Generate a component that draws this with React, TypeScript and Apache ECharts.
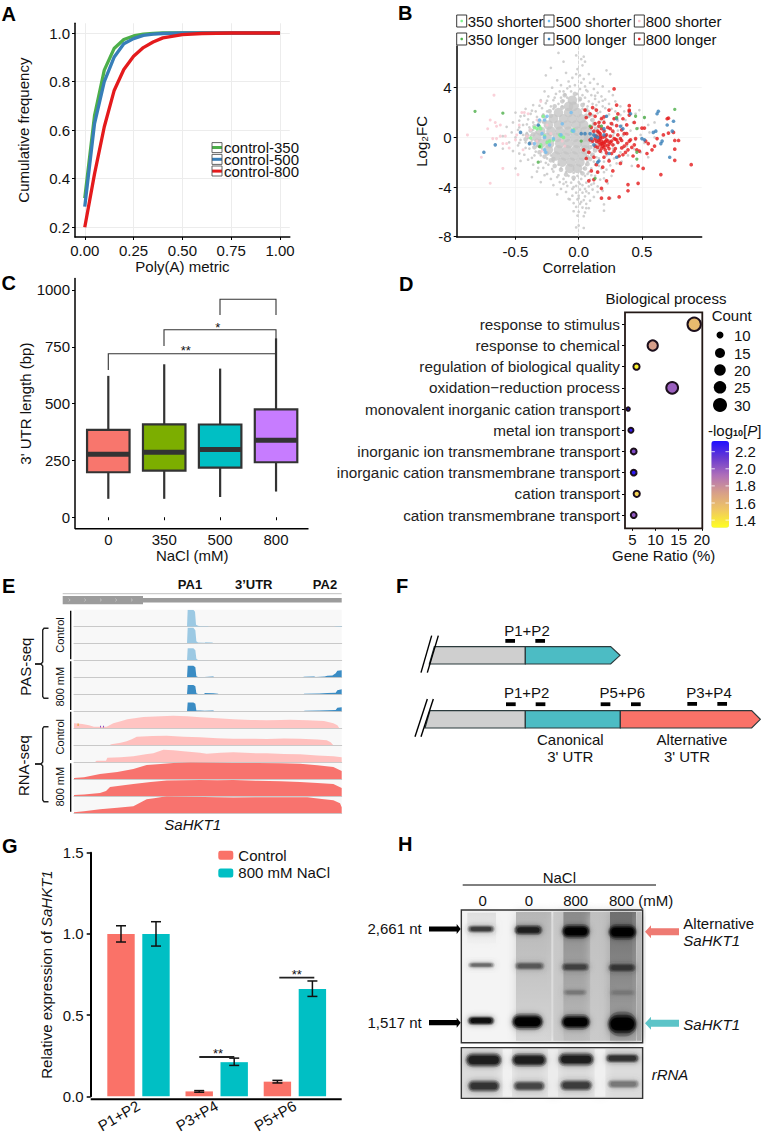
import React, { useEffect, useRef } from "react";
import * as echarts from "echarts";

const FONT = '"Liberation Sans", Arial, sans-serif';
const INK = "#111111";

/* ---------- Panel A ---------- */
const polyAX = [0, 0.05, 0.1, 0.15, 0.2, 0.25, 0.3, 0.35, 0.4, 0.5, 0.6, 0.75, 1];
const control350 = [0.32, 0.66, 0.847, 0.936, 0.973, 0.988, 0.995, 0.998, 1, 1, 1, 1, 1];
const control500 = [0.285, 0.627, 0.8, 0.9, 0.956, 0.977, 0.99, 0.995, 0.998, 1, 1, 1, 1];
const control800 = [0.2, 0.42, 0.614, 0.762, 0.85, 0.904, 0.94, 0.963, 0.98, 0.993, 0.998, 1, 1];

/* ---------- Panel B ---------- */
const greyCore = [
  [-0.05, 3], [-0.08, 2.5], [-0.04, 2.5], [-0.16, 2], [-0.08, 2], [-0.01, 2],
  [-0.2, 1.5], [-0.12, 1.5], [-0.05, 1.5], [0.02, 1.5],
  [-0.24, 1], [-0.16, 1], [-0.09, 1], [-0.02, 1], [0.04, 1],
  [-0.3, 0.5], [-0.22, 0.5], [-0.15, 0.5], [-0.08, 0.5], [-0.01, 0.5], [0.05, 0.5],
  [-0.33, 0], [-0.25, 0], [-0.17, 0], [-0.1, 0], [-0.03, 0], [0.04, 0], [0.08, 0],
  [-0.3, -0.5], [-0.23, -0.5], [-0.15, -0.5], [-0.08, -0.5], [-0.01, -0.5], [0.05, -0.5],
  [-0.24, -1], [-0.16, -1], [-0.09, -1], [-0.02, -1], [0.05, -1],
  [-0.18, -1.5], [-0.11, -1.5], [-0.04, -1.5], [0.03, -1.5],
  [-0.13, -2], [-0.06, -2], [0.01, -2], [-0.07, -2.5], [-0.01, -2.5],
];
const greyHalo = [
  [-0.11, 3.4], [-0.03, 3.5], [0.01, 3.1], [-0.13, 2.9], [0.03, 2.6], [-0.19, 2.5], [0.06, 2.2], [-0.23, 2.1], [0.09, 1.8], [-0.28, 1.7],
  [0.11, 1.4], [-0.31, 1.3], [0.12, 1.05], [-0.35, 0.9], [0.14, 0.7], [-0.38, 0.55], [0.15, 0.35], [-0.41, 0.2], [0.17, 0.05], [-0.42, -0.15],
  [0.15, -0.3], [-0.38, -0.45], [0.14, -0.7], [-0.35, -0.8], [0.13, -1.05], [-0.31, -1.2], [0.11, -1.4], [-0.27, -1.55], [0.09, -1.75], [-0.22, -1.85],
  [0.07, -2.15], [-0.19, -2.3], [0.05, -2.5], [-0.14, -2.6], [0.03, -2.9], [-0.1, -3], [-0.04, -3.25], [-0.36, 0.25], [-0.33, -0.25], [0.11, 0.3],
  [0.1, -0.35], [0.09, 0.75], [0.09, -0.8], [-0.27, 1.3], [-0.25, -1.3], [-0.22, 1.75], [-0.2, -1.75], [0.06, 1.75], [0.07, -1.6], [-0.13, 2.4],
];
const greyCloud = [
  [-0.16, 6.8], [-0.02, 6.6], [0.02, 6.3], [0.04, 6.5], [0.05, 6.1], [-0.12, 6.1], [-0.22, 5.6], [-0.01, 5.5],
  [0.03, 5.8], [0.08, 5.1], [-0.1, 5.2], [-0.02, 5.1], [0.01, 5], [0.22, 5.4], [0.25, 5.1], [-0.26, 5.0],
  [-0.05, 4.8], [0.04, 4.7], [-0.17, 4.6], [0.12, 4.7], [-0.08, 4.5], [0.02, 4.4], [0.09, 4.4], [0.15, 4.3],
  [-0.14, 4.2], [-0.03, 4.2], [0.05, 4.1], [0.19, 4.1], [-0.21, 4], [-0.09, 3.95], [0.01, 3.9], [0.12, 3.9],
  [0.24, 3.7], [-0.27, 3.7], [-0.15, 3.7], [-0.06, 3.7], [0.07, 3.7], [0.15, 3.6], [-0.18, 3.5], [-0.11, 3.45],
  [-0.01, 3.5], [0.03, 3.4], [0.1, 3.4], [0.18, 3.3], [0.27, 3.4], [-0.24, 3.3], [-0.14, 3.2], [-0.09, 3.2],
  [0.05, 3.2], [0.13, 3.1], [0.21, 3.05], [-0.3, 3], [-0.2, 3], [-0.12, 2.95], [0.01, 3], [0.08, 2.9],
  [0.16, 2.85], [0.29, 2.9], [-0.26, 2.75], [-0.16, 2.7], [-0.03, 2.75], [0.04, 2.7], [0.11, 2.7], [0.24, 2.7],
  [-0.36, 2.6], [-0.22, 2.5], [-0.13, 2.5], [0.07, 2.5], [0.19, 2.5], [0.33, 2.5], [-0.42, 2.3], [-0.29, 2.35],
  [-0.2, 2.3], [0.03, 2.3], [0.13, 2.3], [0.26, 2.3], [-0.5, 2], [-0.34, 2.1], [-0.25, 2.1], [0.08, 2.1],
  [0.17, 2.05], [0.36, 2.1], [0.48, 2.2], [-0.38, 1.9], [-0.28, 1.85], [0.11, 1.8], [0.24, 1.85], [0.33, 1.8],
  [0.45, 1.9], [-0.46, 1.7], [-0.33, 1.65], [-0.26, 1.6], [0.08, 1.65], [0.18, 1.6], [0.28, 1.55], [0.52, 1.6],
  [-0.4, 1.45], [-0.31, 1.4], [0.1, 1.4], [0.2, 1.35], [0.37, 1.4], [0.6, 1.2], [-0.52, 1.2], [-0.36, 1.2],
  [-0.28, 1.2], [0.12, 1.15], [0.25, 1.15], [0.43, 1.2], [-0.44, 1], [-0.32, 0.95], [0.09, 0.9], [0.18, 0.95],
  [0.34, 0.95], [0.55, 1], [-0.57, 0.85], [-0.39, 0.8], [-0.36, 0.6], [0.13, 0.75], [0.24, 0.7], [0.47, 0.75],
  [-0.48, 0.6], [-0.34, 0.4], [0.1, 0.55], [0.31, 0.55], [0.41, 0.55], [-0.53, 0.4], [-0.41, 0.35], [0.15, 0.4],
  [0.37, 0.35], [0.56, 0.4], [-0.44, 0.2], [-0.38, 0.15], [0.13, 0.2], [0.27, 0.15], [0.49, 0.2], [-0.6, 0.1],
  [-0.5, 0], [-0.4, -0.05], [0.16, 0], [0.33, -0.05], [0.6, 0], [-0.46, -0.2], [-0.37, -0.2], [0.12, -0.2],
  [0.24, -0.25], [0.45, -0.2], [-0.55, -0.4], [-0.42, -0.4], [-0.35, -0.5], [0.14, -0.45], [0.31, -0.45], [0.52, -0.45],
  [-0.48, -0.65], [-0.33, -0.7], [0.1, -0.7], [0.2, -0.7], [0.38, -0.7], [-0.6, -0.9], [-0.39, -0.9], [-0.29, -0.9],
  [0.12, -0.9], [0.27, -0.9], [0.44, -0.95], [-0.52, -1.1], [-0.34, -1.15], [-0.27, -1.2], [0.09, -1.2], [0.18, -1.2],
  [0.33, -1.2], [0.49, -1.2], [-0.43, -1.4], [-0.3, -1.45], [-0.22, -1.45], [0.1, -1.45], [0.22, -1.45], [0.39, -1.45],
  [-0.37, -1.65], [-0.25, -1.7], [0.08, -1.7], [0.16, -1.7], [0.28, -1.7], [0.55, -1.6], [-0.46, -1.9], [-0.3, -1.95],
  [-0.2, -1.95], [0.07, -1.95], [0.2, -1.95], [0.34, -1.95], [-0.36, -2.2], [-0.24, -2.2], [-0.16, -2.2], [0.06, -2.2],
  [0.13, -2.2], [0.25, -2.25], [0.42, -2.3], [-0.5, -2.5], [-0.28, -2.45], [-0.14, -2.5], [0.04, -2.5], [0.1, -2.5],
  [0.18, -2.5], [-0.33, -2.75], [-0.2, -2.75], [-0.1, -2.8], [-0.04, -2.85], [0.02, -2.8], [0.08, -2.8], [0.2, -2.8],
  [-0.27, -3.05], [-0.16, -3.05], [-0.08, -3.1], [-0.01, -3.1], [0.05, -3.1], [0.13, -3.1], [0.26, -3.1], [-0.37, -3.2],
  [-0.22, -3.35], [-0.12, -3.35], [-0.04, -3.4], [0.02, -3.35], [0.09, -3.4], [0.17, -3.4], [-0.3, -3.6], [-0.15, -3.6],
  [-0.06, -3.65], [0, -3.6], [0.06, -3.65], [0.12, -3.7], [0.23, -3.7], [-0.2, -3.85], [-0.09, -3.9], [-0.02, -3.9],
  [0.03, -3.85], [0.08, -3.95], [0.15, -3.95], [-0.14, -4.15], [-0.05, -4.15], [0.01, -4.2], [0.05, -4.15], [0.11, -4.2],
  [0.19, -4.3], [-0.1, -4.4], [-0.02, -4.45], [0.03, -4.45], [0.08, -4.5], [-0.17, -4.6], [-0.05, -4.7], [0, -4.7],
  [0.05, -4.75], [0.12, -4.8], [0.25, -4.9], [-0.07, -5], [-0.01, -5], [0.04, -5.05], [0.09, -5.1], [-0.04, -5.3],
  [0.01, -5.35], [0.06, -5.35], [0.2, -5.4], [-0.02, -5.6], [0.03, -5.65], [0.08, -5.7], [-0.04, -5.95], [0, -6],
  [0.05, -6.05], [0.2, -5.9], [-0.01, -6.3], [0.04, -6.35], [0, -7.1], [0.04, -7.3], [-0.02, -7.25],
  [-0.07, 4.1], [0.06, 3.8], [-0.12, 3.7], [0.13, 3.35], [-0.19, 3.2], [0.19, 2.95], [-0.25, 2.95], [0.14, 2.6], [0.21, 2.35], [-0.31, 2.55],
  [-0.37, 2.15], [0.29, 2.1], [0.15, 1.95], [-0.43, 1.75], [0.22, 1.7], [0.31, 1.35], [-0.47, 1.35], [0.17, 1.25], [0.27, 1], [-0.41, 1.05],
  [0.21, 0.55], [-0.47, 0.8], [0.28, 0.35], [0.35, 0.15], [-0.47, -0.45], [0.21, -0.05], [0.28, -0.6], [-0.42, -0.85], [0.35, -0.85], [0.16, -1],
  [-0.47, -1.3], [0.31, -1.6], [-0.35, -1.45], [0.14, -1.6], [-0.4, -1.8], [0.24, -1.75], [-0.26, -2.05], [0.12, -1.95], [0.3, -2.1], [-0.32, -2.45],
  [0.16, -2.3], [-0.21, -2.55], [0.22, -2.6], [-0.25, -2.95], [0.15, -2.75], [-0.17, -3.2], [0.1, -3.05], [-0.1, -3.6], [0.2, -3.3], [0.1, -3.8],
  [-0.04, -4], [0.06, -4.35], [-0.08, -4.95], [0.02, -5.2], [0.01, -3.75], [0.07, -2.95], [-0.12, -3.75], [0.15, -4.4], [0.0, -4.9], [0.06, -5.7],
];
const pink800Short = [
  [-0.88, 0.2], [-0.67, 3.4], [-0.77, -1.6], [-0.7, -3.7], [-0.6, -2.5], [-0.48, -3], [-0.72, 0.7], [-0.7, 1.4],
  [-0.66, 1.2], [-0.65, 0.9], [-0.62, 1], [-0.68, -0.1], [-0.65, -0.1], [-0.62, 0.1], [-0.58, 0.1], [-0.6, -0.5],
  [-0.57, -0.5], [-0.55, -0.85], [-0.5, -0.2], [-0.49, 0.2], [-0.45, 2], [-0.43, 2], [-0.47, 1], [-0.4, 1.9],
  [-0.38, 0.6], [-0.36, -0.5], [-0.33, -0.3], [-0.41, 0.1], [-0.44, -1], [-0.29, -1.1], [-0.22, 0.3], [-0.13, -0.3],
  [-0.11, -0.7], [-0.3, 2.9], [-0.25, 1], [-0.33, 1.4],
];
const green350Short = [
  [-0.35, 0.8], [-0.33, 0.7], [-0.31, 0.9], [-0.3, 0.7], [-0.28, 1.7], [-0.38, -0.05], [-0.3, -0.6], [-0.3, -0.75],
  [-0.27, 0.1], [-0.23, -0.3], [-0.25, -0.4], [-0.15, 0.2], [-0.14, 0.1], [-0.12, 0], [-0.05, 0.5], [-0.04, 0.6], [-0.2, -0.2],
];
const green350Long = [
  [-0.82, 2.1], [-0.6, 1.95], [0.76, 2.25], [0.52, 1.6], [0.45, 1.7], [0.46, 0.7], [0.46, -1.2], [0.46, -1.75],
  [0.13, -3.3], [0.09, 0.9], [0.02, -0.3], [-0.32, -2], [-0.31, -0.75], [0.3, 1.6], [0.18, 0.9],
];
const blue500Short = [
  [-0.35, -0.5], [-0.29, 0.3], [-0.27, 0], [-0.27, -1], [-0.26, -1.2], [-0.23, -0.6], [-0.25, 1.7], [-0.27, 1.4],
  [-0.14, 0.2], [-0.13, 1.1], [-0.06, 2], [-0.05, 0.55], [-0.04, 0.5], [-0.31, 1.4], [-0.2, -0.1],
];
const blue500Long = [
  [-0.75, -1.2], [-0.66, -0.6], [-0.46, 0.4], [-0.39, -0.5], [-0.32, 1], [0.02, 0.3], [0.05, 0.3], [0.09, 0.3],
  [0.12, 0.2], [0.15, 0], [0.1, -0.1], [0.13, 0.1], [0.2, 0.2], [0.22, 1.7], [0.3, 1.5], [0.33, 0.9], [0.35, 0.7],
  [0.41, 1.9], [0.5, -0.1], [0.52, -0.2], [0.59, 0.4], [0.61, 0.5], [0.63, 2.1], [0.62, 1.9], [0.65, -0.5], [0.66, -0.3],
  [0.7, 1], [0.75, 1.3], [0.74, 0.5], [0.72, -1.6], [0.24, -1.3], [0.3, -1.6], [0.16, -1.9], [0.15, -2], [0.12, -0.6], [0.2, 0.7],
];
const red800Long = [
  [0.89, -2.2], [0.79, -0.25], [0.76, -0.25], [0.76, -0.95], [0.76, -1.85], [0.75, 0.4], [0.71, 0.35], [0.71, 1.55],
  [0.7, 1.5], [0.65, -3], [0.67, 0.2], [0.62, -0.1], [0.6, -0.7], [0.58, -1], [0.55, -0.5], [0.54, -1.3], [0.52, 0.75],
  [0.5, 0.75], [0.53, -0.3], [0.51, -2.5], [0.47, -3.7], [0.47, -2.3], [0.46, -1], [0.45, -0.1], [0.44, -0.6],
  [0.43, -1.5], [0.42, -0.8], [0.4, 2.55], [0.4, 2.2], [0.4, 2.1], [0.41, -0.2], [0.4, 1.8], [0.4, -0.3], [0.39, -3.8],
  [0.39, -4.3], [0.39, -1], [0.38, 1], [0.38, 0.3], [0.37, -1.2], [0.36, -0.7], [0.35, 1.5], [0.35, -1.4], [0.34, 0.6],
  [0.33, -0.1], [0.32, -4.8], [0.32, -1.5], [0.31, 1.9], [0.31, 0.2], [0.3, -0.2], [0.3, 2.6], [0.28, 3.9], [0.28, -0.1],
  [0.28, 1.5], [0.27, 0.5], [0.27, -0.6], [0.27, -2.7], [0.26, 1.1], [0.26, -1.3], [0.25, 0.1], [0.25, -0.4], [0.24, 2.2],
  [0.24, -1.9], [0.23, 0.8], [0.23, -0.7], [0.22, 0.2], [0.22, -0.2], [0.22, -3.5], [0.21, -0.6], [0.21, -1], [0.2, 1.2],
  [0.2, 0.5], [0.2, -0.4], [0.2, -0.8], [0.2, -1.6], [0.19, 0], [0.19, -0.5], [0.19, -2.4], [0.18, 1.5], [0.18, 0.7],
  [0.18, -0.3], [0.18, -0.9], [0.18, -4.1], [0.17, 0.3], [0.17, -0.1], [0.17, -0.6], [0.17, -1.1], [0.16, 1.2], [0.16, 0.9],
  [0.16, -0.2], [0.16, -0.4], [0.15, 0.5], [0.15, -0.8], [0.15, -2.8], [0.14, 2.2], [0.14, 0.1], [0.14, -0.3], [0.14, -2.2],
  [0.13, 1.7], [0.13, 1.1], [0.13, -0.1], [0.13, -0.7], [0.12, 0.5], [0.12, -1.6], [0.12, -3.4], [0.11, 2.4], [0.11, -0.3],
  [0.1, 0.8], [0.1, -2.7], [0.09, 1.9], [0.09, -0.2], [0.08, -1.2], [0.08, -3.5], [0.06, 1.6], [0.06, -1.7], [0.05, 2.2],
  [0.04, -1], [0.29, -0.9], [0.33, -2.1], [0.36, 0.3], [0.24, -4.9], [0.18, -4.9], [0.44, 1.2], [0.48, -1.1],
  [0.26, -0.3], [0.24, -0.9], [0.23, -0.3], [0.21, -0.35], [0.21, 0.1], [0.19, -0.7], [0.18, -0.5], [0.17, 0.1], [0.24, -0.55], [0.29, -0.15],
  [0.31, -0.4], [0.34, -0.25], [0.25, 0.7], [0.3, 0.95], [0.2, 1.65], [0.16, 0.4], [0.22, -1.25], [0.28, -1.1], [0.34, -0.85], [0.38, -0.5],
];

/* ---------- Panel C ---------- */
const naclLevels = ["0", "350", "500", "800"];
const utrMin = [81, 81, 89, 113];
const utrQ1 = [198, 205, 218, 242];
const utrMedian = [277, 286, 298, 339];
const utrQ3 = [384, 409, 408, 475];
const utrMax = [622, 673, 654, 787];
const boxColors = ["#F8766D", "#7CAE00", "#00BFC4", "#C77CFF"];

/* ---------- Panel D ---------- */
const goTerms = [
  "response to stimulus", "response to chemical", "regulation of biological quality",
  "oxidation\u2212reduction process", "monovalent inorganic cation transport", "metal ion transport",
  "inorganic ion transmembrane transport", "inorganic cation transmembrane transport",
  "cation transport", "cation transmembrane transport",
];
const geneRatio = [18.35, 9.4, 5.9, 13.6, 4.1, 4.7, 5.3, 5.3, 5.95, 5.3];
const geneCount = [31, 23, 13, 27, 6, 10, 12, 12, 13, 12];
const logP = [1.58, 1.72, 1.35, 1.97, 2.3, 2.26, 2.05, 2.28, 1.47, 2.0];
const sizeLegendCounts = [10, 15, 20, 25, 30];
const colorLegendTicks = ["2.2", "2.0", "1.8", "1.6", "1.4"];

/* ---------- Panel E ---------- */
const pasControlA = [[0, 0], [339, 0], [341, 17], [358, 17], [363, 15], [366, 2], [372, 1], [378, 0.5], [402, 0.5], [404, 0], [780, 0], [786, 0.5], [803, 0.6]];
const pasControlB = [[0, 0], [339, 0], [341, 15.5], [358, 15.5], [364, 13], [367, 2], [372, 0.7], [392, 0.5], [394, 1], [415, 0.8], [418, 0], [803, 0]];
const pasControlC = [[0, 0], [339, 0], [341, 12], [358, 12], [364, 10], [367, 1.5], [372, 0.4], [400, 0.3], [402, 0], [803, 0]];
const pasSaltA = [[0, 0], [339, 0], [341, 11.5], [358, 11.5], [364, 10], [367, 1], [372, 0.2], [391, 0.2], [392, 0.8], [418, 0.8], [420, 0], [685, 0], [690, 0.5], [720, 0.8], [725, 0.3], [752, 0.8], [760, 1.5], [775, 1.8], [785, 4], [790, 6.5], [803, 7]];
const pasSaltB = [[0, 0], [339, 0], [341, 9.3], [358, 9.3], [364, 8], [367, 1], [372, 0.2], [391, 0.2], [392, 1.2], [418, 1], [432, 0.5], [434, 0], [688, 0], [690, 0.5], [735, 0.7], [760, 1.2], [785, 1.5], [790, 4], [803, 5]];
const pasSaltC = [[0, 0], [339, 0], [341, 8.7], [358, 8.7], [364, 7.5], [367, 0.8], [378, 0.7], [392, 0.5], [418, 0.8], [420, 0], [688, 0], [692, 0.5], [735, 0.7], [760, 1], [785, 1.4], [790, 3.5], [803, 4]];
const rnaControlA = [[0, 5], [25, 4.4], [45, 3], [60, 1.6], [98, 1.5], [118, 5], [140, 7], [160, 9], [208, 11.4], [260, 12], [298, 12.6], [340, 12], [378, 11], [430, 10], [478, 9], [530, 8.3], [578, 8], [620, 8.4], [648, 8.6], [700, 8], [750, 7.2], [778, 5], [790, 3], [796, 0], [803, 0]];
const rnaControlB = [[0, 0], [106, 0], [112, 1], [140, 2.6], [158, 4], [175, 6.4], [188, 8.5], [235, 9.3], [278, 9.6], [330, 8.6], [378, 8], [430, 7], [478, 6.5], [530, 6.6], [578, 6.4], [630, 6.8], [678, 6.5], [730, 5.8], [758, 5], [770, 3], [778, 0], [803, 0]];
const rnaControlC = [[0, 0], [62, 0], [68, 1.5], [96, 1.6], [100, 4.5], [140, 5], [178, 6], [215, 8], [238, 9], [268, 12.5], [298, 12], [328, 11], [378, 9.5], [398, 8.6], [440, 9.6], [478, 10], [530, 9.2], [578, 9], [630, 8.3], [678, 8], [730, 6.8], [778, 6], [803, 5]];
const rnaSaltA = [[0, 1], [30, 1.8], [78, 5], [130, 7], [178, 10], [218, 14], [260, 15], [298, 16], [350, 16.4], [420, 16.2], [478, 16], [550, 16], [620, 15.8], [678, 15.2], [730, 13.8], [778, 12], [803, 8]];
const rnaSaltB = [[0, 1], [30, 1.5], [78, 3], [96, 5], [108, 9], [178, 12], [230, 14], [278, 15.5], [378, 16], [430, 15.7], [478, 16], [550, 15.2], [620, 14.8], [678, 14], [730, 13], [778, 12], [803, 8]];
const rnaSaltC = [[0, 1], [30, 2], [78, 4], [130, 5.6], [178, 7], [218, 14], [240, 15], [278, 17], [350, 16.5], [428, 16], [478, 15.8], [560, 16], [640, 16], [700, 16], [750, 14], [778, 13], [798, 10], [803, 6]];
const trackProfiles = [pasControlA, pasControlB, pasControlC, pasSaltA, pasSaltB, pasSaltC, rnaControlA, rnaControlB, rnaControlC, rnaSaltA, rnaSaltB, rnaSaltC];
const trackColors = ["#9cc9e3", "#9cc9e3", "#9cc9e3", "#3a8cc4", "#3a8cc4", "#3a8cc4", "#ffc4c2", "#ffc0be", "#ffc0be", "#f8736e", "#f8736e", "#f8736e"];
const trackBaselines = [626.7, 643.3, 660.3, 677.3, 694.3, 711.3, 728.3, 745.3, 762.3, 779, 796, 813.3];

/* ---------- Panel G ---------- */
const primerPairs = ["P1+P2", "P3+P4", "P5+P6"];
const controlExpr = [1, 0.03, 0.09];
const saltExpr = [1, 0.21, 0.66];
const controlErrLow = [0.95, 0.025, 0.082];
const controlErrHigh = [1.05, 0.035, 0.098];
const saltErrLow = [0.925, 0.19, 0.615];
const saltErrHigh = [1.075, 0.235, 0.71];

/* ---------- Graphic helpers (annotations and schematics) ---------- */
const txt = (x: number, y: number, text: string, o: any = {}) => ({
  type: "text", x, y, rotation: o.rotation || 0, z: o.z ?? 20,
  style: {
    text, fontFamily: FONT, fontSize: o.size || 15, fontWeight: o.weight || "normal", fontStyle: o.italic ? "italic" : "normal",
    fill: o.fill || INK, align: o.align || "center", verticalAlign: "middle",
    textAlign: o.align || "center", textVerticalAlign: "middle", rich: o.rich,
  },
});
const line = (x1: number, y1: number, x2: number, y2: number, stroke = INK, lineWidth = 1, z = 20) => ({
  type: "line", z, shape: { x1, y1, x2, y2 }, style: { stroke, lineWidth },
});
const poly = (points: number[][], stroke = INK, lineWidth = 1.5, z = 20) => ({
  type: "polyline", z, shape: { points }, style: { stroke, lineWidth, fill: "none" },
});
const box = (x: number, y: number, w: number, h: number, fill: any, o: any = {}) => ({
  type: "rect", z: o.z ?? 5, shape: { x, y, width: w, height: h, r: o.r || 0 },
  style: { fill, opacity: o.opacity ?? 1, stroke: o.stroke || "none", lineWidth: o.lw || 0, shadowBlur: o.blur || 0, shadowColor: o.blur ? o.shadow || fill : "transparent" },
});
const polygon = (points: number[][], fill: string, stroke = "#2b3a3c", lineWidth = 1.2) => ({
  type: "polygon", z: 6, shape: { points }, style: { fill, stroke, lineWidth },
});
const letter = (x: number, y: number, t: string) => txt(x, y, t, { size: 20, weight: "bold", align: "left", fill: "#000" });

/* panel F: coordinates follow the 3x crop (origin 400,570) */
const fx = (v: number) => 400 + v / 3;
const fy = (v: number) => 570 + v / 3;
const fp = (pts: number[][]) => pts.map(([a, b]) => [fx(a), fy(b)]);
const primer = (a: number, t: number) => box(fx(a), fy(t), 9.7, 3.8, "#000", { z: 8 });

/* panel H: coordinates follow the 3x crop (origin 350,830) */
const hx = (v: number) => 350 + v / 3;
const hy = (v: number) => 830 + v / 3;
const band = (a: number, b: number, yc: number, h: number, fill: string) => {
  const layer = (da: number, hh: number, opacity: number, blur: number) => {
    const ht = (h * hh) / 3;
    return box(hx(a + da), hy(yc) - ht / 2, (b - a - 2 * da) / 3, ht, fill, { r: ht / 2, z: 8, opacity, blur });
  };
  return [layer(-6, 1.7, 0.22, 6), layer(-2, 1.25, 0.4, 4), layer(4, 0.85, 0.9, 3)];
};
const lane = (a: number, b: number, t: number, bottom: number, top: string, low: string) =>
  box(hx(a), hy(t), (b - a) / 3, (bottom - t) / 3,
    new echarts.graphic.LinearGradient(0, 0, 0, 1, [{ offset: 0, color: top }, { offset: 1, color: low }]), { z: 6, blur: 10, shadow: low });
const blockArrow = (xTail: number, xHead: number, y: number, t: number, hh: number, hl: number, fill: string) => {
  const d = xHead > xTail ? 1 : -1;
  return {
    type: "polygon", z: 9,
    shape: { points: [[xTail, y - t], [xHead - d * hl, y - t], [xHead - d * hl, y - hh], [xHead, y], [xHead - d * hl, y + hh], [xHead - d * hl, y + t], [xTail, y + t]] },
    style: { fill },
  };
};
const trackGroups = [
  [70.7, 610.7, 659.3], [70.7, 661.3, 710], [70.7, 711.7, 760], [70.7, 763.3, 811.7],
];
const chevronStarts = [208, 255, 302, 348, 395];

function buildGraphics() {
  const g: any[] = [];
  /* letters */
  g.push(letter(1.5, 14, "A"), letter(398, 13, "B"), letter(1.5, 283, "C"), letter(399, 284, "D"),
    letter(2, 586, "E"), letter(396, 586, "F"), letter(2, 846, "G"), letter(398, 844, "H"));

  /* A legend frames */
  [142.6, 154.4, 166].forEach((y) => g.push({ type: "rect", z: 21, shape: { x: 212, y, width: 10, height: 10 }, style: { fill: "none", stroke: "#555", lineWidth: 0.9 } }));

  /* B legend */
  const bLegend = [
    [456.7, 467.7, 21, "350 shorter", "#7df58a"], [544, 555.7, 21, "500 shorter", "#73bdf0"], [634.3, 645.7, 21, "800 shorter", "#f9c6cf"],
    [456.7, 467.7, 39, "350 longer", "#4daf4a"], [544, 555.7, 39, "500 longer", "#377eb8"], [634.3, 645.7, 39, "800 longer", "#e41a1c"],
  ] as any[];
  bLegend.forEach(([bx, tx, y, t]) => g.push(txt(tx, y, t, { align: "left", z: 20 })));
  bLegend.forEach(([bx, tx, y, t, c]) => {
    g.push({ type: "rect", z: 21, shape: { x: bx, y: y - 6, width: 10, height: 12 }, style: { fill: "#fff", stroke: "#222", lineWidth: 0.9 } });
    g.push({ type: "circle", z: 22, shape: { cx: bx + 5, cy: y, r: 1.3 }, style: { fill: c } });
  });

  /* C axis baseline and brackets */
  g.push(line(75, 528.7, 308.5, 528.7, "#000", 1.5));
  g.push(poly([[220, 315], [220, 299.3], [276, 299.3], [276, 315]], "#333", 1.1));
  g.push(poly([[164, 346], [164, 329.7], [276, 329.7], [276, 370]], "#333", 1.1));
  g.push(poly([[108.3, 370], [108.3, 353.7], [276, 353.7], [276, 370]], "#333", 1.1));
  g.push(txt(217.7, 327.5, "*", { size: 13 }), txt(185.7, 350, "**", { size: 13 }));

  /* D frame and legends */
  g.push({ type: "rect", z: 12, shape: { x: 625, y: 312.3, width: 77.3, height: 216 }, style: { fill: "none", stroke: "#231815", lineWidth: 1.8 } });
  g.push(txt(666, 298, "Biological process"), txt(731.7, 315, "Count"));
  const sizeRows = [335, 353, 370, 387.3, 405];
  const sizeDia = [7, 10, 11.5, 12.5, 14];
  sizeLegendCounts.forEach((c, i) => {
    g.push({ type: "circle", z: 12, shape: { cx: 720, cy: sizeRows[i], r: sizeDia[i] / 2 }, style: { fill: "#000" } });
    g.push(txt(734, sizeRows[i], String(c), { align: "left" }));
  });
  g.push({
    type: "text", x: 708, y: 430, z: 20,
    style: {
      text: "{n|-log}{s|10}{n|[}{i|P}{n|]}", fontFamily: FONT, fontSize: 15, fill: INK, align: "left", verticalAlign: "middle", textAlign: "left", textVerticalAlign: "middle",
      rich: {
        n: { fontFamily: FONT, fontSize: 15, fill: INK },
        s: { fontFamily: FONT, fontSize: 9, fontWeight: "bold", fill: INK, verticalAlign: "bottom" },
        i: { fontFamily: FONT, fontSize: 15, fontStyle: "italic", fill: INK },
      },
    },
  });
  colorLegendTicks.forEach((t, i) => {
    const y = 451.7 + i * 17.1;
    g.push(txt(735, y, t, { align: "left" }));
    g.push(line(711.3, y, 714.8, y, "#fff", 0.8), line(725.5, y, 729, y, "#fff", 0.8));
  });

  /* E annotations */
  g.push(txt(190, 584.7, "PA1", { size: 13, weight: "bold" }), txt(253.7, 584.7, "3\u2019UTR", { size: 13, weight: "bold" }), txt(325, 584.7, "PA2", { size: 13, weight: "bold" }));
  g.push(line(62.7, 593.7, 341.7, 593.7, "#b0b0b0", 0.8));
  g.push(box(62.7, 596, 80.3, 8.3, "#9c9c9c"), box(143, 598, 198.7, 4.4, "#9c9c9c"));
  chevronStarts.forEach((z) => {
    const x = z / 3;
    g.push(poly([[x - 0.7, 598.6], [x + 0.8, 600], [x - 0.7, 601.4]], "#d8d8d8", 0.6));
  });
  trackGroups.forEach(([x, a, b]) => g.push(line(x, a, x, b, "#000", 1.3)));
  g.push(txt(60, 635, "Control", { size: 11, rotation: Math.PI / 2 }), txt(60, 686.7, "800 mM", { size: 11, rotation: Math.PI / 2 }),
    txt(60, 736.7, "Control", { size: 11, rotation: Math.PI / 2 }), txt(60, 786.7, "800 mM", { size: 11, rotation: Math.PI / 2 }));
  g.push(txt(25, 666.7, "PAS-seq", { rotation: Math.PI / 2 }), txt(23, 765.7, "RNA-seq", { rotation: Math.PI / 2 }));
  g.push(poly([[48.5, 628.3], [44, 628.3], [42.7, 630], [42.7, 662], [41, 664], [35, 664]], "#222", 1.4),
    poly([[35, 664], [41, 664], [42.7, 666], [42.7, 696.5], [44, 698.3], [48.5, 698.3]], "#222", 1.4));
  g.push(poly([[48.5, 726.7], [44, 726.7], [42.7, 728.5], [42.7, 762], [41, 764], [35, 764]], "#222", 1.4),
    poly([[35, 764], [41, 764], [42.7, 766], [42.7, 800], [44, 801.7], [48.5, 801.7]], "#222", 1.4));
  g.push(txt(192.7, 824, "SaHKT1", { italic: true }));
  g.push(box(77.5, 723.5, 1.2, 2.6, "#e8a040", { z: 30 }), box(100, 725.8, 0.9, 1.8, "#8040c0", { z: 30 }), box(103, 725.8, 0.9, 1.8, "#8040c0", { z: 30 }));

  /* F schematic */
  const slash = (x1: number, y1: number, x2: number, y2: number) => line(fx(x1), fy(y1), fx(x2), fy(y2), "#000", 1.4);
  g.push(polygon(fp([[103, 230], [376, 230], [376, 282], [88, 282]]), "#cfcfcf"));
  g.push(polygon(fp([[376, 230], [632, 230], [660, 256], [632, 282], [376, 282]]), "#4cbcc4"));
  g.push(slash(63, 308, 95, 197), slash(82, 308, 115, 197));
  g.push(polygon(fp([[90, 422], [376, 422], [376, 474], [75, 474]]), "#cfcfcf"));
  g.push(polygon(fp([[376, 422], [661, 422], [661, 474], [376, 474]]), "#4cbcc4"));
  g.push(polygon(fp([[661, 422], [1055, 422], [1081, 448], [1055, 474], [661, 474]]), "#fa7268"));
  g.push(slash(45, 500, 82, 387), slash(63, 500, 100, 387));
  g.push(primer(316, 207), primer(406, 207), primer(318, 397), primer(407, 397), primer(602, 397), primer(693, 397), primer(862, 396), primer(952, 396));
  g.push(txt(fx(381), fy(180), "P1+P2"), txt(fx(380), fy(368), "P1+P2"), txt(fx(667), fy(368), "P5+P6"), txt(fx(927), fy(368), "P3+P4"));
  g.push(txt(fx(511), fy(508), "Canonical"), txt(fx(511), fy(560), "3' UTR"), txt(fx(876), fy(508), "Alternative"), txt(fx(861), fy(560), "3' UTR"));

  /* G baseline, brackets */
  g.push(line(90.7, 1099.3, 341.7, 1099.3, "#000", 2));
  g.push(line(199.3, 1057, 234.3, 1057, "#222", 1.8), line(279.3, 977.7, 314.3, 977.7, "#222", 1.8));
  g.push(txt(218, 1053, "**", { size: 13 }), txt(296.7, 974, "**", { size: 13 }));

  /* H blot */
  g.push(txt(559.3, 877.3, "NaCl"), line(462.7, 885, 656, 885, "#000", 1));
  g.push(txt(482.7, 900, "0"), txt(529, 900, "0"), txt(575.7, 900, "800"), txt(609, 900, "800 (mM)", { align: "left" }));
  g.push(box(hx(334), hy(240), 181.3, 132.7, "#f4f4f4"));
  g.push(lane(498, 604, 246, 632, "#b6b6b6", "#d6d6d6"), lane(610, 640, 246, 632, "#c8c8c8", "#cccccc"),
    lane(640, 722, 246, 632, "#8a8a8a", "#bebebe"), lane(722, 780, 246, 632, "#c0c0c0", "#cacaca"),
    lane(780, 858, 246, 632, "#6e6e6e", "#a6a6a6"), lane(860, 874, 246, 632, "#bdbdbd", "#a8a8a8"), lane(352, 438, 248, 340, "#dedede", "#f0f0f0"));
  g.push(...band(358, 428, 297, 12, "#3a3a3a"), ...band(498, 572, 300, 18, "#1c1c1c"), ...band(640, 715, 304, 26, "#060606"), ...band(780, 855, 306, 28, "#040404"));
  g.push(...band(360, 428, 405, 9, "#6a6a6a"), ...band(500, 578, 408, 13, "#555555"), ...band(640, 712, 411, 14, "#3e3e3e"), ...band(780, 852, 413, 15, "#333333"));
  g.push(...band(645, 705, 487, 10, "#777777"), ...band(785, 850, 488, 10, "#777777"));
  g.push(...band(358, 428, 572, 15, "#0a0a0a"), ...band(490, 575, 575, 30, "#000000"), ...band(638, 716, 576, 28, "#000000"), ...band(778, 856, 582, 44, "#000000"));
  g.push({ type: "rect", z: 10, shape: { x: hx(334), y: hy(240), width: 181.3, height: 132.7 }, style: { fill: "none", stroke: "#333", lineWidth: 1.4 } });
  g.push(box(hx(334), hy(653), 181.3, 50.7, "#dcdcdc"));
  g.push(lane(458, 486, 658, 800, "#f2f2f2", "#f0f0f0"), lane(594, 624, 658, 800, "#ececec", "#ececec"), lane(734, 766, 658, 800, "#f0f0f0", "#f0f0f0"));
  g.push(...band(352, 450, 690, 26, "#1c1c1c"), ...band(490, 585, 690, 24, "#1c1c1c"), ...band(630, 727, 688, 24, "#1c1c1c"), ...band(772, 862, 685, 16, "#2e2e2e"));
  g.push(...band(358, 445, 768, 22, "#333333"), ...band(495, 580, 768, 18, "#444444"), ...band(635, 722, 766, 20, "#3c3c3c"), ...band(778, 862, 762, 15, "#777777"));
  g.push({ type: "rect", z: 10, shape: { x: hx(334), y: hy(653), width: 181.3, height: 50.7 }, style: { fill: "none", stroke: "#333", lineWidth: 1.4 } });
  g.push(txt(421.7, 928.3, "2,661 nt", { align: "right" }), txt(421.7, 1022.7, "1,517 nt", { align: "right" }));
  g.push(blockArrow(429, 460.7, 929, 2.6, 5, 4, "#000"), blockArrow(429, 460.7, 1022.7, 2.6, 5, 4, "#000"));
  g.push(blockArrow(679, 645, 931.7, 3.5, 6.5, 6, "#ee7a72"), blockArrow(679, 645, 1023.3, 3.5, 6.5, 6, "#5cc4c8"));
  g.push(txt(683.3, 923.3, "Alternative", { align: "left" }), txt(683.3, 940, "SaHKT1", { align: "left", italic: true }),
    txt(683.3, 1024, "SaHKT1", { align: "left", italic: true }), txt(651.7, 1074, "rRNA", { align: "left", italic: true }));
  return g;
}

/* ---------- Options ---------- */
const axisText = { fontFamily: FONT, fontSize: 15, color: INK };
const nameText = { fontFamily: FONT, fontSize: 15, color: INK };
const blackLine = { show: true, lineStyle: { color: "#000", width: 1.5 }, onZero: false };
const tick = (length: number, customValues?: number[]) => ({ show: true, length, customValues, lineStyle: { color: "#000", width: 1 } });

function buildOption() {
  const grid: any[] = [
    { left: 75, top: 23.3, width: 214.8, height: 213.7 },
    { left: 456.7, top: 46, width: 245, height: 190.7 },
    { left: 80.35, top: 278.6, width: 223.65, height: 250 },
    { left: 625, top: 313.7, width: 77.3, height: 211.9 },
    { left: 99.4, top: 852.7, width: 234.6, height: 246.6 },
  ];
  const xAxis: any[] = [
    {
      gridIndex: 0, type: "value", min: -0.05, max: 1.05, name: "Poly(A) metric", nameLocation: "middle", nameGap: 22, nameTextStyle: nameText,
      axisLine: blackLine, axisTick: tick(3, [0, 0.25, 0.5, 0.75, 1]),
      axisLabel: { ...axisText, margin: 6, customValues: [0, 0.25, 0.5, 0.75, 1], formatter: (v: number) => v.toFixed(2) },
      splitLine: { show: true, lineStyle: { color: "#ececec", width: 1 } },
    },
    {
      gridIndex: 1, type: "value", min: -0.965, max: 0.973, name: "Correlation", nameLocation: "middle", nameGap: 23, nameTextStyle: nameText,
      axisLine: blackLine, axisTick: tick(3, [-0.5, 0, 0.5]),
      axisLabel: { ...axisText, margin: 7, customValues: [-0.5, 0, 0.5], formatter: (v: number) => v.toFixed(1) },
      splitLine: { show: true, lineStyle: { color: "#f0f0f0", width: 0.7 } },
    },
    {
      gridIndex: 2, type: "category", data: naclLevels, name: "NaCl (mM)", nameLocation: "middle", nameGap: 19, nameTextStyle: nameText,
      axisLine: { show: false }, axisTick: { show: true, alignWithLabel: true, length: 3, lineStyle: { color: "#000" } }, axisLabel: { ...axisText, margin: 3 }, splitLine: { show: false },
    },
    {
      gridIndex: 3, type: "value", min: 3.42, max: 20.1, offset: 2.7, name: "Gene Ratio (%)", nameLocation: "middle", nameGap: 17, nameTextStyle: nameText,
      axisLine: { show: false }, axisTick: tick(2.5, [5, 10, 15, 20]),
      axisLabel: { ...axisText, margin: 4, customValues: [5, 10, 15, 20] }, splitLine: { show: false },
    },
    {
      gridIndex: 4, type: "category", data: primerPairs, axisLine: { show: false }, axisTick: { show: false },
      axisLabel: { ...axisText, rotate: 30, margin: 8 }, splitLine: { show: false },
    },
  ];
  const yAxis: any[] = [
    {
      gridIndex: 0, type: "value", min: 0.16, max: 1.04, name: "Cumulative frequency", nameLocation: "middle", nameGap: 44, nameTextStyle: nameText,
      axisLine: blackLine, axisTick: tick(3, [0.2, 0.4, 0.6, 0.8, 1]),
      axisLabel: { ...axisText, margin: 5, customValues: [0.2, 0.4, 0.6, 0.8, 1], formatter: (v: number) => v.toFixed(1) },
      splitLine: { show: true, lineStyle: { color: "#ececec", width: 1.2 } },
    },
    {
      gridIndex: 1, type: "value", min: -8, max: 7.36, name: "Log\u2082FC", nameLocation: "middle", nameGap: 27.5, nameTextStyle: nameText,
      axisLine: blackLine, axisTick: tick(3, [-8, -4, 0, 4]), axisLabel: { ...axisText, margin: 5, customValues: [-8, -4, 0, 4] },
      splitLine: { show: true, lineStyle: { color: "#f0f0f0", width: 0.7 } },
    },
    {
      gridIndex: 2, type: "value", min: -50, max: 1050, offset: 5.35, name: "3' UTR length (bp)", nameLocation: "middle", nameGap: 42.5, nameTextStyle: nameText,
      axisLine: blackLine, axisTick: tick(3, [0, 250, 500, 750, 1000]),
      axisLabel: { ...axisText, margin: 5, customValues: [0, 250, 500, 750, 1000], formatter: (v: number) => String(v) }, splitLine: { show: false },
    },
    {
      gridIndex: 3, type: "category", data: goTerms, inverse: true, axisLine: { show: false },
      axisTick: { show: true, alignWithLabel: true, length: 3, lineStyle: { color: "#000" } },
      axisLabel: { ...axisText, color: "#222", margin: 5, interval: 0, fontSize: 15.3 }, splitLine: { show: false },
    },
    {
      gridIndex: 4, type: "value", min: 0, max: 1.5, interval: 0.5, offset: 8.7,
      name: "{a|Relative expression of }{b|SaHKT1}", nameLocation: "middle", nameGap: 36.5,
      nameTextStyle: { rich: { a: { fontFamily: FONT, fontSize: 15, color: INK }, b: { fontFamily: FONT, fontSize: 15, fontStyle: "italic", color: INK } } },
      axisLine: { show: true, lineStyle: { color: "#000", width: 2 }, onZero: false }, axisTick: { show: true, length: 4, lineStyle: { color: "#000", width: 1.5 } },
      axisLabel: { ...axisText, margin: 7, formatter: (v: number) => v.toFixed(1) }, splitLine: { show: false },
    },
  ];

  const scatter = (name: string, data: number[][], color: string, size: number, extra: any = {}) => ({
    type: "scatter", name, xAxisIndex: 1, yAxisIndex: 1, data, symbolSize: size, itemStyle: { color }, silent: true, ...extra,
  });
  const curve = (name: string, ys: number[], color: string) => ({
    type: "line", name, xAxisIndex: 0, yAxisIndex: 0, data: polyAX.map((x, i) => [x, ys[i]]),
    showSymbol: false, lineStyle: { color, width: 3.3, cap: "butt" }, itemStyle: { color },
  });

  const boxData = naclLevels.map((_, i) => [i, utrMin[i], utrQ1[i], utrMedian[i], utrQ3[i], utrMax[i]]);
  const errData = [
    ...primerPairs.map((_, i) => [i, controlErrLow[i], controlErrHigh[i], -17.5]),
    ...primerPairs.map((_, i) => [i, saltErrLow[i], saltErrHigh[i], 17.5]),
  ];

  const series: any[] = [
    curve("control-350", control350, "#4daf4a"),
    curve("control-500", control500, "#377eb8"),
    curve("control-800", control800, "#e41a1c"),
    scatter("background", greyCloud, "#c4c4c4", 2.7, {
      markLine: {
        silent: true, symbol: "none", label: { show: false },
        lineStyle: { type: "dashed", color: "#cfcfcf", width: 0.8 }, data: [{ xAxis: 0 }],
      },
    }),
    scatter("background halo", greyHalo, "#c4c4c4", 4.6),
    scatter("background core", greyCore, "#c4c4c4", 9.5),
    scatter("800 shorter", pink800Short, "#f9c6cf", 3),
    scatter("350 shorter", green350Short, "#7df58a", 3.6),
    scatter("500 shorter", blue500Short, "#73bdf0", 3.6),
    scatter("800 longer", red800Long, "#e41a1c", 3.7),
    scatter("500 longer", blue500Long, "#377eb8", 3.6),
    scatter("350 longer", green350Long, "#4daf4a", 3.3),
    {
      type: "custom", name: "3' UTR length", xAxisIndex: 2, yAxisIndex: 2, data: boxData,
      encode: { x: 0, y: [1, 2, 3, 4, 5] }, clip: false, silent: true,
      renderItem: (params: any, api: any) => {
        const i = api.value(0);
        const [cx, lo] = api.coord([i, api.value(1)]);
        const q1 = api.coord([i, api.value(2)])[1];
        const med = api.coord([i, api.value(3)])[1];
        const q3 = api.coord([i, api.value(4)])[1];
        const hi = api.coord([i, api.value(5)])[1];
        const w = 42.5, s = "#333333";
        return {
          type: "group",
          children: [
            { type: "line", shape: { x1: cx, y1: hi, x2: cx, y2: q3 }, style: { stroke: s, lineWidth: 2.2 } },
            { type: "line", shape: { x1: cx, y1: q1, x2: cx, y2: lo }, style: { stroke: s, lineWidth: 2.2 } },
            { type: "rect", shape: { x: cx - w / 2, y: q3, width: w, height: q1 - q3 }, style: { fill: boxColors[params.dataIndex], stroke: s, lineWidth: 2.2 } },
            { type: "line", shape: { x1: cx - w / 2, y1: med, x2: cx + w / 2, y2: med }, style: { stroke: s, lineWidth: 5 } },
          ],
        };
      },
    },
    {
      type: "scatter", id: "go", name: "GO terms", xAxisIndex: 3, yAxisIndex: 3,
      data: goTerms.map((t, i) => [geneRatio[i], t, geneCount[i], logP[i]]), encode: { x: 0, y: 1 }, silent: true, z: 5,
      symbolSize: (v: any[]) => 1 + 0.4 * v[2], itemStyle: { borderColor: "#1c0f1c", borderWidth: 2, opacity: 1 },
    },
    { type: "bar", name: "Control", xAxisIndex: 4, yAxisIndex: 4, data: controlExpr, barWidth: 27.4, barGap: "27.7%", itemStyle: { color: "#fa7268" } },
    { type: "bar", name: "800 mM NaCl", xAxisIndex: 4, yAxisIndex: 4, data: saltExpr, barWidth: 27.4, barGap: "27.7%", itemStyle: { color: "#00bfc4" } },
    {
      type: "custom", name: "error bars", xAxisIndex: 4, yAxisIndex: 4, data: errData, encode: { x: 0, y: [1, 2] }, z: 6, silent: true,
      renderItem: (_: any, api: any) => {
        const i = api.value(0);
        const [x0, lo] = api.coord([i, api.value(1)]);
        const hi = api.coord([i, api.value(2)])[1];
        const x = x0 + api.value(3), cap = 5;
        const st = { stroke: "#111", lineWidth: 1.5 };
        return {
          type: "group",
          children: [
            { type: "line", shape: { x1: x, y1: lo, x2: x, y2: hi }, style: st },
            { type: "line", shape: { x1: x - cap, y1: lo, x2: x + cap, y2: lo }, style: st },
            { type: "line", shape: { x1: x - cap, y1: hi, x2: x + cap, y2: hi }, style: st },
          ],
        };
      },
    },
  ];

  trackProfiles.forEach((profile, i) => {
    const gi = grid.length;
    grid.push({ left: 74, width: 267.7, top: trackBaselines[i] - 17, height: 17, show: true, backgroundColor: "#f8f8f8", borderWidth: 0 });
    xAxis.push({
      gridIndex: gi, type: "value", min: 0, max: 803,
      axisLine: { show: true, lineStyle: { color: "#bdbdbd", width: 0.8 } }, axisTick: { show: false }, axisLabel: { show: false }, splitLine: { show: false },
    });
    yAxis.push({ gridIndex: gi, type: "value", min: 0, max: 17, show: false, splitLine: { show: false } });
    series.push({
      type: "line", name: "track " + (i + 1), xAxisIndex: gi, yAxisIndex: gi, data: profile, showSymbol: false, silent: true,
      lineStyle: { width: 0 }, areaStyle: { color: trackColors[i], opacity: 1 }, itemStyle: { color: trackColors[i] },
    });
  });

  return {
    animation: false,
    backgroundColor: "#fff",
    textStyle: { fontFamily: FONT },
    grid, xAxis, yAxis, series,
    legend: [
      {
        data: ["control-350", "control-500", "control-800"], orient: "vertical", left: 212, top: 140, padding: 0, itemGap: -3.2,
        itemWidth: 10, itemHeight: 3, icon: "rect", itemStyle: { borderWidth: 0 }, selectedMode: false, textStyle: { ...axisText, padding: [0, 0, 0, -3] },
      },
      {
        data: ["Control", "800 mM NaCl"], orient: "vertical", left: 218.3, top: 846.5, padding: 0, itemGap: 0,
        itemWidth: 15, itemHeight: 9, selectedMode: false, textStyle: { ...axisText, lineHeight: 17.6 },
      },
    ],
    visualMap: [{
      type: "continuous", seriesId: "go", dimension: 3, min: 1.31, max: 2.31, left: 711.3, top: 441, padding: 0, itemWidth: 17.7, itemHeight: 86.7,
      calculable: false, realtime: false, text: null, showLabel: false, hoverLink: false,
      inRange: { color: ["#ffff20", "#f0c860", "#d8a088", "#b070b8", "#6a3ad0", "#2010ff"] },
      textStyle: { color: "transparent", fontSize: 1 },
    }],
    graphic: { elements: buildGraphics() },
  };
}

export default function App() {
  const ref = useRef<HTMLDivElement>(null);
  useEffect(() => {
    if (!ref.current) return;
    const chart = echarts.init(ref.current, undefined, { renderer: "svg" });
    chart.setOption(buildOption());
    return () => chart.dispose();
  }, []);
  return <div ref={ref} style={{ position: "absolute", left: 0, top: 0, width: 762, height: 1135, background: "#fff" }} />;
}
